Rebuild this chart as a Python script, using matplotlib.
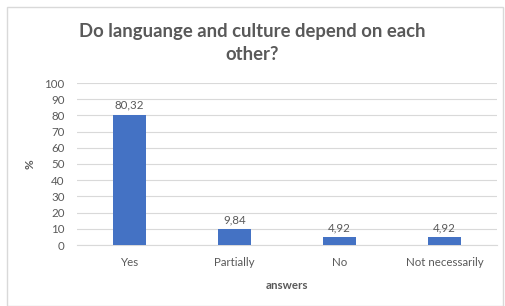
import matplotlib
matplotlib.use("Agg")
import matplotlib.pyplot as plt
from matplotlib.patches import Rectangle

# chart data
categories = ["Yes", "Partially", "No", "Not necessarily"]
values = [80.32, 9.84, 4.92, 4.92]
value_labels = ["80,32", "9,84", "4,92", "4,92"]
yticks = list(range(0, 101, 10))

plt.rcParams["font.family"] = ["Lato", "DejaVu Sans"]
grey = "#595959"

fig = plt.figure(figsize=(5.05, 3.06), dpi=100)
fig.patch.set_facecolor("white")
fig.patches.append(Rectangle((7 / 505, 0), 496 / 505, 299 / 306,
                             transform=fig.transFigure, fill=False,
                             edgecolor="#d9d9d9", linewidth=1))

ax = fig.add_axes([77 / 505, 1 - 245 / 306, 420 / 505, 162 / 306])
x = range(len(categories))
bars = ax.bar(x, values, width=0.31, color="#4472c4", zorder=3)

for b, lab in zip(bars, value_labels):
    ax.text(b.get_x() + b.get_width() / 2, b.get_height() + 2.5, lab,
            ha="center", va="bottom", fontsize=8.3, color=grey)

ax.set_xlim(-0.5, 3.5)
ax.set_ylim(0, 100)
ax.set_yticks(yticks)
ax.set_xticks(list(x))
ax.set_xticklabels(categories)
ax.tick_params(axis="both", length=0, labelsize=8.3, labelcolor=grey)
ax.tick_params(axis="x", pad=9)
ax.tick_params(axis="y", pad=9)
ax.grid(axis="y", color="#d9d9d9", linewidth=0.8, zorder=0)
for s in ["top", "right", "left"]:
    ax.spines[s].set_visible(False)
ax.spines["bottom"].set_color("#d9d9d9")

ax.set_ylabel("%", fontsize=8.5, color=grey, fontweight="bold", labelpad=6)
ax.set_xlabel("answers", fontsize=8.3, color=grey, fontweight="bold", labelpad=8)

fig.text(0.5, 1 - 43 / 306, "Do languange and culture depend on each\nother?",
         ha="center", va="center", fontsize=13.3, fontweight="bold",
         color=grey, linespacing=1.45)

fig.savefig("out.png", dpi=100)
